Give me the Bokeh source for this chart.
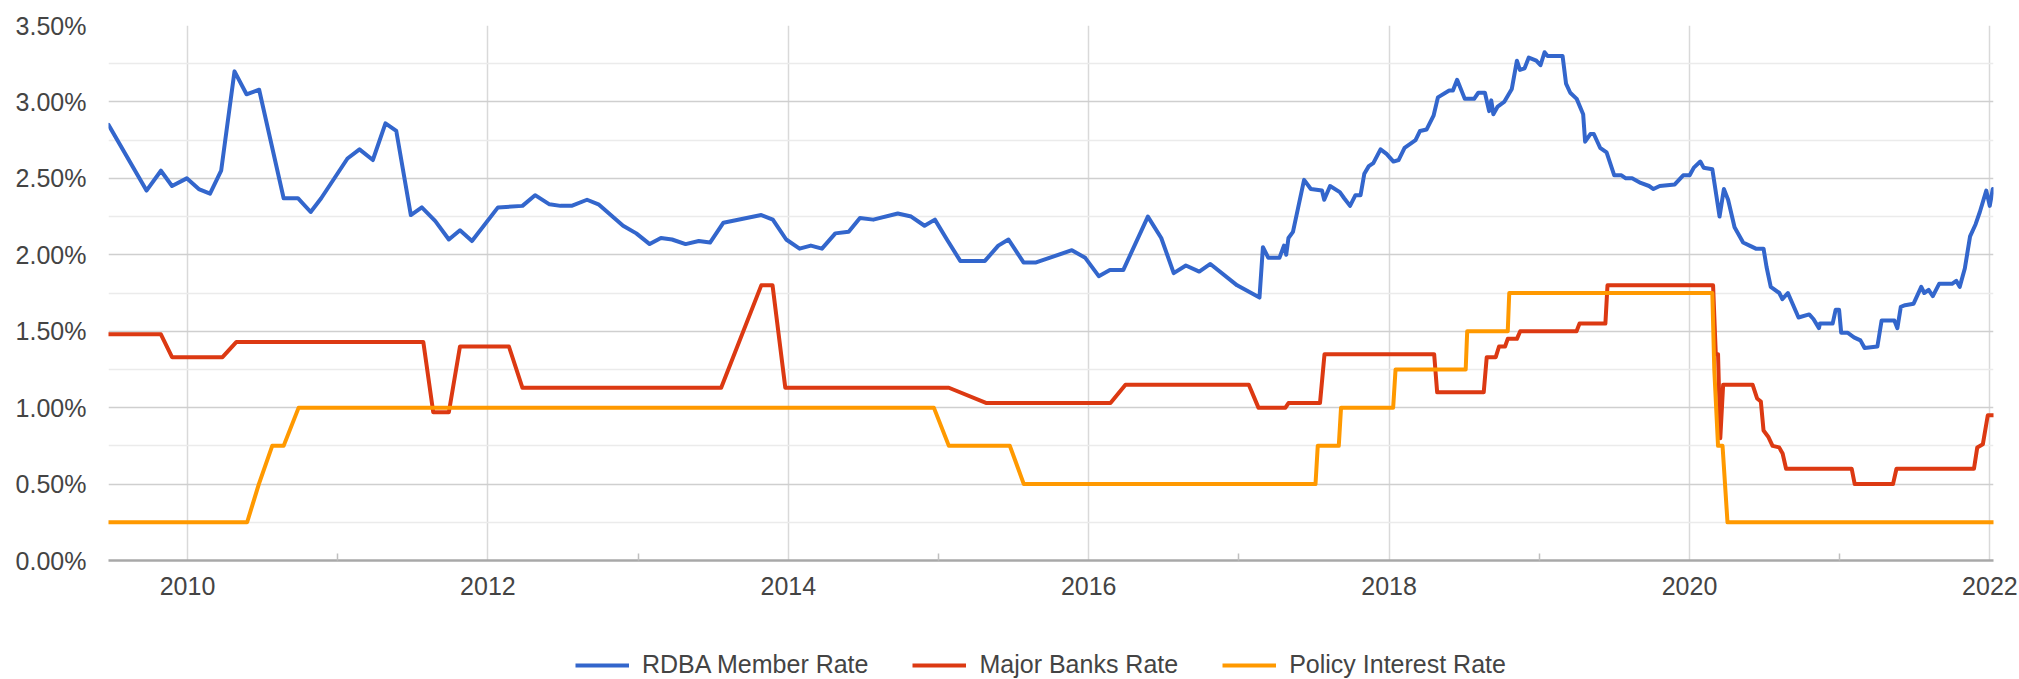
from bokeh.plotting import figure
from bokeh.layouts import column
from bokeh.models import Range1d, FixedTicker, PrintfTickFormatter, Legend, LegendItem
from bokeh.embed import file_html
from bokeh.resources import INLINE

# ---------------- data (decimal years, percent) ----------------
rdba_years = [
    2009.474, 2009.727, 2009.823, 2009.897, 2009.995, 2010.075, 2010.150, 2010.224,
    2010.313, 2010.393, 2010.477, 2010.640, 2010.735, 2010.820, 2010.890, 2011.065,
    2011.145, 2011.234, 2011.318, 2011.390, 2011.487, 2011.560, 2011.650, 2011.740,
    2011.814, 2011.894, 2012.067, 2012.230, 2012.314, 2012.410, 2012.483, 2012.557,
    2012.660, 2012.736, 2012.900, 2012.988, 2013.077, 2013.152, 2013.226, 2013.316,
    2013.404, 2013.479, 2013.568, 2013.820, 2013.897, 2013.986, 2014.075, 2014.150,
    2014.224, 2014.313, 2014.402, 2014.477, 2014.566, 2014.729, 2014.818, 2014.907,
    2014.976, 2015.056, 2015.145, 2015.309, 2015.398, 2015.466, 2015.566, 2015.650,
    2015.888, 2015.977, 2016.067, 2016.141, 2016.230, 2016.394, 2016.483, 2016.566,
    2016.647, 2016.736, 2016.810, 2016.988, 2017.137, 2017.160, 2017.196, 2017.270,
    2017.300, 2017.315, 2017.330, 2017.360, 2017.434, 2017.479, 2017.553, 2017.568,
    2017.607, 2017.672, 2017.701, 2017.740, 2017.776, 2017.810, 2017.835, 2017.865,
    2017.895, 2017.943, 2017.983, 2018.029, 2018.063, 2018.103, 2018.176, 2018.206,
    2018.250, 2018.296, 2018.325, 2018.400, 2018.425, 2018.453, 2018.504, 2018.566,
    2018.594, 2018.638, 2018.666, 2018.680, 2018.694, 2018.723, 2018.766, 2018.817,
    2018.851, 2018.871, 2018.902, 2018.930, 2018.980, 2019.008, 2019.035, 2019.055,
    2019.155, 2019.178, 2019.206, 2019.249, 2019.292, 2019.305, 2019.340, 2019.363,
    2019.405, 2019.448, 2019.499, 2019.547, 2019.576, 2019.618, 2019.675, 2019.731,
    2019.760, 2019.802, 2019.902, 2019.958, 2020.001, 2020.029, 2020.072, 2020.094,
    2020.152, 2020.180, 2020.200, 2020.229, 2020.257, 2020.300, 2020.357, 2020.400,
    2020.442, 2020.493, 2020.513, 2020.541, 2020.598, 2020.618, 2020.655, 2020.726,
    2020.797, 2020.825, 2020.862, 2020.868, 2020.953, 2020.973, 2020.996, 2021.010,
    2021.052, 2021.095, 2021.138, 2021.166, 2021.251, 2021.279, 2021.364, 2021.384,
    2021.407, 2021.435, 2021.492, 2021.543, 2021.563, 2021.592, 2021.620, 2021.662,
    2021.748, 2021.776, 2021.799, 2021.833, 2021.868, 2021.905, 2021.933, 2021.976,
    2021.999, 2022.019,
]
rdba_rates = [
    2.85, 2.42, 2.55, 2.45, 2.50, 2.43, 2.40, 2.55,
    3.20, 3.05, 3.08, 2.37, 2.37, 2.28, 2.37, 2.63,
    2.69, 2.62, 2.86, 2.81, 2.26, 2.31, 2.22, 2.10,
    2.16, 2.09, 2.31, 2.32, 2.39, 2.33, 2.32, 2.32,
    2.36, 2.33, 2.19, 2.14, 2.07, 2.11, 2.10, 2.07,
    2.09, 2.08, 2.21, 2.26, 2.23, 2.10, 2.04, 2.06,
    2.04, 2.14, 2.15, 2.24, 2.23, 2.27, 2.25, 2.19,
    2.23, 2.10, 1.96, 1.96, 2.06, 2.10, 1.95, 1.95,
    2.03, 1.98, 1.86, 1.90, 1.90, 2.25, 2.11, 1.88,
    1.93, 1.89, 1.94, 1.80, 1.72, 2.05, 1.98, 1.98,
    2.06, 2.00, 2.11, 2.15, 2.49, 2.43, 2.42, 2.36,
    2.45, 2.41, 2.37, 2.32, 2.39, 2.39, 2.53, 2.58,
    2.60, 2.69, 2.66, 2.61, 2.62, 2.70, 2.75, 2.81,
    2.82, 2.91, 3.03, 3.075, 3.075, 3.145, 3.02, 3.02,
    3.06, 3.06, 2.94, 3.01, 2.92, 2.97, 3.00, 3.085,
    3.27, 3.21, 3.22, 3.29, 3.27, 3.24, 3.325, 3.30,
    3.30, 3.12, 3.06, 3.02, 2.92, 2.74, 2.79, 2.79,
    2.70, 2.67, 2.52, 2.52, 2.50, 2.50, 2.47, 2.45,
    2.43, 2.45, 2.46, 2.52, 2.52, 2.57, 2.61, 2.57,
    2.56, 2.38, 2.25, 2.43, 2.36, 2.18, 2.08, 2.06,
    2.04, 2.04, 1.92, 1.79, 1.75, 1.71, 1.75, 1.59,
    1.61, 1.58, 1.52, 1.55, 1.55, 1.64, 1.64, 1.49,
    1.49, 1.46, 1.44, 1.39, 1.40, 1.57, 1.57, 1.52,
    1.66, 1.67, 1.68, 1.79, 1.75, 1.77, 1.73, 1.81,
    1.81, 1.83, 1.79, 1.91, 2.12, 2.20, 2.28, 2.42,
    2.32, 2.43,
]

banks_years = [
    2009.474, 2009.823, 2009.897, 2010.233, 2010.326, 2011.570, 2011.636, 2011.740,
    2011.814, 2012.140, 2012.230, 2013.553, 2013.820, 2013.895, 2013.980, 2015.069,
    2015.320, 2016.145, 2016.245, 2017.066, 2017.130, 2017.310, 2017.330, 2017.540,
    2017.570, 2018.300, 2018.320, 2018.630, 2018.650, 2018.710, 2018.732, 2018.772,
    2018.790, 2018.851, 2018.873, 2019.248, 2019.268, 2019.440, 2019.454, 2020.157,
    2020.175, 2020.190, 2020.205, 2020.224, 2020.420, 2020.450, 2020.475, 2020.493,
    2020.524, 2020.553, 2020.597, 2020.620, 2020.643, 2021.080, 2021.100, 2021.355,
    2021.378, 2021.894, 2021.916, 2021.953, 2021.986, 2022.030,
]
banks_rates = [
    1.48, 1.48, 1.33, 1.33, 1.43, 1.43, 0.97, 0.97,
    1.40, 1.40, 1.13, 1.13, 1.80, 1.80, 1.13, 1.13,
    1.03, 1.03, 1.15, 1.15, 1.00, 1.00, 1.03, 1.03,
    1.35, 1.35, 1.10, 1.10, 1.33, 1.33, 1.40, 1.40,
    1.45, 1.45, 1.50, 1.50, 1.55, 1.55, 1.80, 1.80,
    1.35, 1.35, 0.80, 1.15, 1.15, 1.06, 1.04, 0.85,
    0.81, 0.75, 0.74, 0.70, 0.60, 0.60, 0.50, 0.50,
    0.60, 0.60, 0.74, 0.76, 0.95, 0.95,
]

policy_years = [
    2009.474, 2010.397, 2010.475, 2010.564, 2010.640, 2010.740, 2014.969, 2015.069,
    2015.475, 2015.568, 2017.510, 2017.525, 2017.665, 2017.680, 2018.027, 2018.043,
    2018.510, 2018.520, 2018.790, 2018.800, 2020.152, 2020.165, 2020.190, 2020.220,
    2020.253, 2022.030,
]
policy_rates = [
    0.25, 0.25, 0.50, 0.75, 0.75, 1.00, 1.00, 0.75,
    0.75, 0.50, 0.50, 0.75, 0.75, 1.00, 1.00, 1.25,
    1.25, 1.50, 1.50, 1.75, 1.75, 1.25, 0.75, 0.75,
    0.25, 0.25,
]

series_names = ["RDBA Member Rate", "Major Banks Rate", "Policy Interest Rate"]
series_colors = ["#3366cc", "#dc3912", "#ff9900"]
series_data = [(rdba_years, rdba_rates), (banks_years, banks_rates), (policy_years, policy_rates)]

year_ticks = [2010, 2012, 2014, 2016, 2018, 2020, 2022]
year_minor_ticks = [2011, 2013, 2015, 2017, 2019, 2021]
rate_ticks = [0.0, 0.5, 1.0, 1.5, 2.0, 2.5, 3.0, 3.5]
rate_minor_ticks = [0.25, 0.75, 1.25, 1.75, 2.25, 2.75, 3.25]

FONT = "Liberation Sans"
TEXT_COLOR = "#444444"
LINE_W = 4

# ---------------- main chart ----------------
p = figure(
    width=2019, height=620,
    output_backend="svg", toolbar_location=None,
    x_range=Range1d(2009.474, 2022.024), y_range=Range1d(0, 3.5),
    min_border_left=108, min_border_right=26, min_border_top=25, min_border_bottom=60,
)
p.outline_line_color = None
p.background_fill_color = "white"
p.border_fill_color = "white"

xticker = FixedTicker(ticks=year_ticks, minor_ticks=year_minor_ticks)
yticker = FixedTicker(ticks=rate_ticks, minor_ticks=rate_minor_ticks)

xa = p.xaxis[0]
xa.ticker = xticker
xa.formatter = PrintfTickFormatter(format="%d")
xa.axis_line_color = "#a8a8a8"
xa.axis_line_width = 2.5
xa.major_tick_line_color = None
xa.major_tick_in = 0
xa.major_tick_out = 0
xa.minor_tick_line_color = "#c0c0c0"
xa.minor_tick_line_width = 1.5
xa.minor_tick_in = 7
xa.minor_tick_out = 0
xa.major_label_text_font = FONT
xa.major_label_text_font_size = "25px"
xa.major_label_text_color = TEXT_COLOR
xa.major_label_standoff = 16

ya = p.yaxis[0]
ya.ticker = yticker
ya.formatter = PrintfTickFormatter(format="%.2f%%")
ya.axis_line_color = None
ya.major_tick_line_color = None
ya.minor_tick_line_color = None
ya.major_tick_in = 0
ya.major_tick_out = 0
ya.major_label_text_font = FONT
ya.major_label_text_font_size = "25px"
ya.major_label_text_color = TEXT_COLOR
ya.major_label_standoff = 18

p.xgrid.ticker = xticker
p.xgrid.grid_line_color = "#d9d9d9"
p.xgrid.grid_line_width = 1.5
p.ygrid.ticker = yticker
p.ygrid.grid_line_color = "#cfcfcf"
p.ygrid.grid_line_width = 1.5
p.ygrid.minor_grid_line_color = "#ebebeb"
p.ygrid.minor_grid_line_width = 1.5

for (xs, ys), c in zip(series_data, series_colors):
    p.line(xs, ys, line_color=c, line_width=LINE_W, line_join="round", line_cap="round")

# ---------------- legend strip below (frame aligned with main chart) ----------------
leg = figure(
    width=2019, height=59,
    output_backend="svg", toolbar_location=None,
    x_range=Range1d(0, 1), y_range=Range1d(0, 1),
    x_axis_location=None, y_axis_location=None,
    min_border=0, min_border_left=0, min_border_right=0, min_border_top=0, min_border_bottom=0,
)
leg.outline_line_color = None
leg.grid.visible = False
leg.background_fill_color = "white"
leg.border_fill_color = "white"

# same series, drawn outside this strip's visible range: they only provide legend swatches
leg_renderers = [leg.line(xs, ys, line_color=c, line_width=LINE_W)
                 for (xs, ys), c in zip(series_data, series_colors)]

legend = Legend(
    items=[LegendItem(label=n, renderers=[r]) for n, r in zip(series_names, leg_renderers)],
    orientation="horizontal",
    location=(467, 0),
    glyph_width=54, glyph_height=20,
    label_standoff=13, spacing=44,
    padding=0, margin=0,
    border_line_color=None, background_fill_alpha=0,
    label_text_font=FONT, label_text_font_size="25px", label_text_color=TEXT_COLOR,
)
leg.add_layout(legend)

layout = column(p, leg, spacing=0)
open("out.html", "w").write(file_html(layout, INLINE))
